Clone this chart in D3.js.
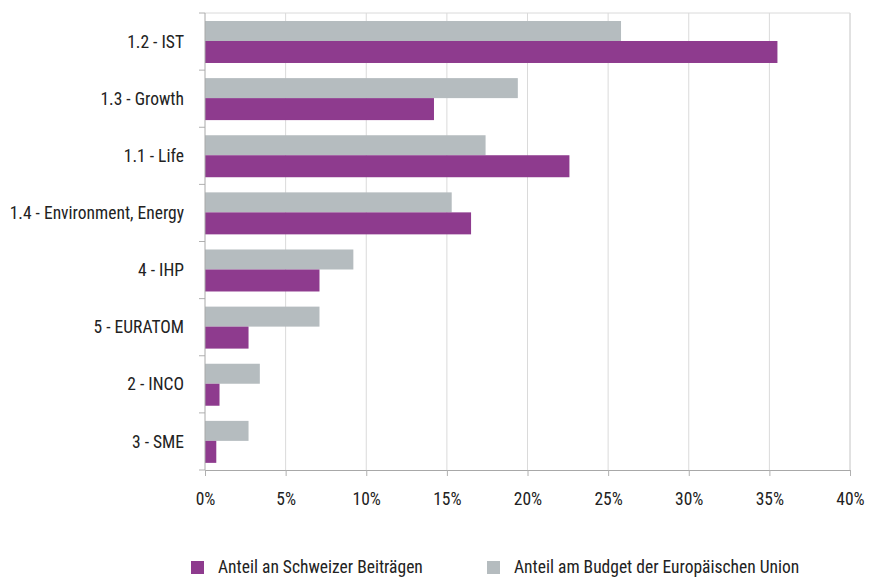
<!DOCTYPE html>
<html>
<head>
<meta charset="utf-8">
<script src="https://cdn.jsdelivr.net/npm/d3@7"></script>
<style>
  body { margin: 0; background: #fff; }
  svg text { font-family: "Roboto Condensed", Roboto, sans-serif; font-stretch: condensed; fill: #222; }
</style>
</head>
<body>
<svg width="869" height="578"></svg>
<script>
// Categories, top to bottom.
var categories = ["1.2 - IST", "1.3 - Growth", "1.1 - Life", "1.4 - Environment, Energy",
    "4 - IHP", "5 - EURATOM", "2 - INCO", "3 - SME"];

// Share of the EU budget (grey) and of Swiss contributions (purple), in percent.
var budgetEU = [25.8, 19.4, 17.4, 15.3, 9.2, 7.1, 3.4, 2.7];
var swissShare = [35.5, 14.2, 22.6, 16.5, 7.1, 2.7, 0.9, 0.7];

var xTicks = [0, 5, 10, 15, 20, 25, 30, 35, 40];
var seriesNames = ["Anteil an Schweizer Beiträgen", "Anteil am Budget der Europäischen Union"];

var svg = d3.select("svg");
var margin = {left: 205, right: 19, top: 13, bottom: 108};
var width = 869 - margin.left - margin.right,
    height = 578 - margin.top - margin.bottom;

var g = svg.append("g").attr("transform", "translate(" + margin.left + "," + margin.top + ")");

var x = d3.scaleLinear().domain([0, 40]).range([0, width]);
var y = d3.scaleBand().domain(categories).range([0, height]);

// gridlines
g.selectAll(".grid").data(xTicks.slice(1)).enter().append("line")
    .attr("x1", d => x(d)).attr("x2", d => x(d))
    .attr("y1", 0).attr("y2", height)
    .attr("stroke", d => d === 40 ? "#c4c4c4" : "#dadada");
g.append("line").attr("x1", 0).attr("x2", width).attr("y1", 0).attr("y2", 0).attr("stroke", "#dadada");

// bars
var bw = y.bandwidth();
g.selectAll(".eu").data(categories).enter().append("rect")
    .attr("x", 0).attr("y", (d, i) => y(d) + bw * 0.14)
    .attr("width", (d, i) => x(budgetEU[i]))
    .attr("height", bw * 0.35)
    .attr("fill", "#b5bcbf");
g.selectAll(".ch").data(categories).enter().append("rect")
    .attr("x", 0).attr("y", (d, i) => y(d) + bw * 0.49)
    .attr("width", (d, i) => x(swissShare[i]))
    .attr("height", bw * 0.385)
    .attr("fill", "#8e3b8e");

// left axis: separators between categories
var bounds = categories.map(d => y(d)).concat([height]);
g.selectAll(".ytick").data(bounds).enter().append("line")
    .attr("x1", -6).attr("x2", 0).attr("y1", d => d).attr("y2", d => d)
    .attr("stroke", "#b0b0b0");
g.append("line").attr("x1", 0).attr("x2", 0).attr("y1", 0).attr("y2", height).attr("stroke", "#a8a8a8");
g.selectAll(".ylab").data(categories).enter().append("text")
    .attr("x", -21).attr("y", d => y(d) + bw / 2)
    .attr("dy", "0.35em").attr("text-anchor", "end")
    .style("font-size", "17.5px")
    .text(d => d);

// bottom axis
var xAxis = g.append("g").attr("transform", "translate(0," + height + ")")
    .call(d3.axisBottom(x).tickValues(xTicks).tickFormat(d => d + "%").tickSize(6).tickPadding(17));
xAxis.select(".domain").attr("stroke", "#a8a8a8");
xAxis.selectAll(".tick line").attr("stroke", "#b0b0b0");
xAxis.selectAll("text").style("font-size", "17.5px").style("font-family", null).attr("fill", "#222");

// legend
var legendX = [191, 487];
var legendColors = ["#8e3b8e", "#b5bcbf"];
var leg = svg.selectAll(".leg").data(seriesNames).enter().append("g")
    .attr("transform", (d, i) => "translate(" + legendX[i] + ",561)");
leg.append("rect").attr("width", 13).attr("height", 13).attr("fill", (d, i) => legendColors[i]);
leg.append("text").attr("x", 27).attr("y", 12).style("font-size", "17.5px").text(d => d);
</script>
</body>
</html>
